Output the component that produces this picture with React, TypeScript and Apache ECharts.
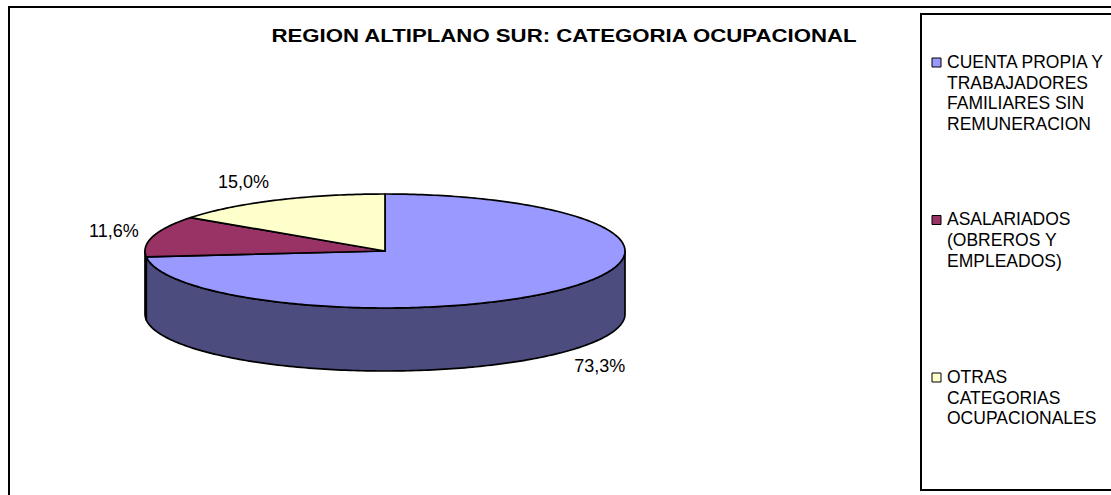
import React, { useEffect, useRef } from "react";
import * as echarts from "echarts";

const titleText = "REGION ALTIPLANO SUR: CATEGORIA OCUPACIONAL";
const categories = [
  "CUENTA PROPIA Y\nTRABAJADORES\nFAMILIARES SIN\nREMUNERACION",
  "ASALARIADOS\n(OBREROS Y\nEMPLEADOS)",
  "OTRAS\nCATEGORIAS\nOCUPACIONALES",
];
const values = [73.3, 11.6, 15.0];
const topColors = ["#9999FF", "#993366", "#FFFFCC"];
const sideColors = ["#4C4C7F", "#4D1A33", "#80806A"];

const FONT = "Arial, 'Liberation Sans', sans-serif";

// layout constants (pixels)
const CX = 385;
const CY = 251;
const RX = 240;
const RY = 57;
const DEPTH = 63;

const total = values.reduce((a, b) => a + b, 0);
const cumulative: number[] = [];
values.reduce((acc, v, i) => {
  cumulative[i] = acc;
  return acc + v;
}, 0);

// angle c in degrees, clockwise from 12 o'clock
function pt(cDeg: number, dz: number): number[] {
  const c = (cDeg * Math.PI) / 180;
  return [CX + RX * Math.sin(c), CY - RY * Math.cos(c) + dz];
}

function sliceRange(i: number): [number, number] {
  const a = (cumulative[i] / total) * 360;
  const b = ((cumulative[i] + values[i]) / total) * 360;
  return [a, b];
}

function arcPoints(a: number, b: number, dz: number): number[][] {
  const pts: number[][] = [];
  const n = Math.max(2, Math.ceil(Math.abs(b - a)));
  for (let k = 0; k <= n; k++) pts.push(pt(a + ((b - a) * k) / n, dz));
  return pts;
}

function fmt(v: number): string {
  return v.toFixed(1).replace(".", ",") + "%";
}

export default function App() {
  const ref = useRef<HTMLDivElement>(null);
  useEffect(() => {
    if (!ref.current) return;
    const chart = echarts.init(ref.current, undefined, { renderer: "svg" });

    const renderSide = (params: any) => {
      const i = params.dataIndex;
      const [a, b] = sliceRange(i);
      const va = Math.max(a, 90);
      const vb = Math.min(b, 270);
      if (vb <= va) return { type: "group", children: [] };
      const top = arcPoints(va, vb, 0);
      const bottom = arcPoints(va, vb, DEPTH).reverse();
      return {
        type: "polygon",
        shape: { points: top.concat(bottom) },
        style: { fill: sideColors[i], stroke: "#000", lineWidth: 1.7, lineJoin: "round" },
      };
    };

    const renderTop = (params: any, api: any) => {
      const i = params.dataIndex;
      const v = api.value(0);
      const [a, b] = sliceRange(i);
      const pts = [[CX, CY]].concat(arcPoints(a, b, 0));
      const mid = ((a + b) / 2) * (Math.PI / 180);
      const s = Math.sin(mid);
      const c = Math.cos(mid);
      const lx = CX + (RX + 15) * s;
      const ly = CY - (RY + 20) * c + (c < 0 ? DEPTH : 0);
      return {
        type: "group",
        children: [
          {
            type: "polygon",
            shape: { points: pts },
            style: { fill: topColors[i], stroke: "#000", lineWidth: 1.7, lineJoin: "round" },
          },
          {
            type: "text",
            x: lx,
            y: ly,
            style: {
              text: fmt(v),
              fill: "#000",
              fontSize: 18,
              fontFamily: FONT,
              align: s < 0 ? "right" : "left",
              verticalAlign: "middle",
            },
          },
        ],
      };
    };

    const legendStartY = 62;
    const legendStep = 157.5;
    const legendLine = 20.7;
    const legendGraphics: any[] = [];
    categories.forEach((name, i) => {
      const y0 = legendStartY + i * legendStep;
      legendGraphics.push({
        type: "rect",
        shape: { x: 932, y: y0 - 4, width: 9, height: 9 },
        style: { fill: topColors[i], stroke: "#000", lineWidth: 1 },
        z: 5,
      });
      legendGraphics.push({
        type: "text",
        x: 947,
        y: y0 - legendLine / 2,
        style: {
          text: name,
          fill: "#000",
          fontSize: 17.5,
          fontFamily: FONT,
          lineHeight: legendLine,
          align: "left",
          verticalAlign: "top",
        },
        z: 5,
      });
    });

    chart.setOption({
      animation: false,
      backgroundColor: "#ffffff",
      graphic: [
        {
          type: "rect",
          shape: { x: 9, y: 7, width: 1300, height: 700 },
          style: { fill: "none", stroke: "#000", lineWidth: 2 },
          z: 0,
        },
        {
          type: "rect",
          shape: { x: 921, y: 14, width: 400, height: 476 },
          style: { fill: "#fff", stroke: "#000", lineWidth: 2 },
          z: 1,
        },
        {
          type: "text",
          x: 564,
          y: 36,
          scaleX: 1.2,
          style: {
            text: titleText,
            fill: "#000",
            fontSize: 18.5,
            fontWeight: "bold",
            fontFamily: FONT,
            align: "center",
            verticalAlign: "middle",
          },
          z: 5,
        },
        ...legendGraphics,
      ],
      series: [
        {
          type: "custom",
          name: "sides",
          coordinateSystem: "none",
          z: 2,
          renderItem: renderSide,
          data: values.map((v, i) => ({ name: categories[i], value: [v] })),
          silent: true,
        },
        {
          type: "custom",
          name: "tops",
          coordinateSystem: "none",
          z: 3,
          renderItem: renderTop,
          data: values.map((v, i) => ({ name: categories[i], value: [v] })),
          silent: true,
        },
      ],
    });
    return () => chart.dispose();
  }, []);

  return (
    <div
      ref={ref}
      style={{ position: "fixed", left: 0, top: 0, width: 1111, height: 495 }}
    />
  );
}
